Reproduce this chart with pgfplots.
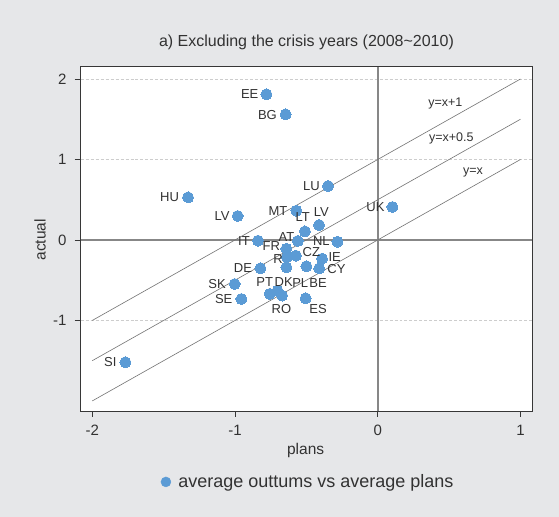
\documentclass[border=0pt]{standalone}
\usepackage{fontspec}
\setmainfont{Liberation Sans}
\usepackage{pgfplots}
\usepackage{pgfplotstable}
\pgfplotsset{compat=1.18}

\definecolor{bggray}{RGB}{230,231,233}
\definecolor{dotblue}{RGB}{91,155,213}
\definecolor{linec}{RGB}{115,115,115}
\definecolor{framec}{RGB}{55,55,55}
\definecolor{zeroc}{RGB}{135,135,135}
\definecolor{gridc}{RGB}{205,205,205}
\definecolor{textc}{RGB}{50,50,50}

% average plans (x) and average outturns (y) by country
\pgfplotstableread{
x       y
-0.780  1.810
-0.645  1.561
-1.329  0.530
-0.981  0.298
-0.348  0.671
 0.103  0.410
-0.570  0.364
-0.411  0.186
-0.510  0.107
-0.839 -0.009
-0.560 -0.012
-0.282 -0.022
-0.640 -0.110
-0.636 -0.210
-0.573 -0.195
-0.390 -0.232
-0.822 -0.352
-0.640 -0.338
-0.500 -0.326
-0.410 -0.352
-1.002 -0.547
-0.955 -0.733
-0.757 -0.670
-0.702 -0.630
-0.670 -0.690
-0.505 -0.724
-1.768 -1.519
}\points

% country label positions
\pgfplotstableread{
lx      ly      lab
-0.897  1.810   EE
-0.773  1.553   BG
-1.458  0.530   HU
-1.091  0.298   LV
-0.465  0.671   LU
-0.016  0.410   UK
-0.699  0.364   MT
-0.395  0.352   LV
-0.525  0.282   LT
-0.937 -0.012   IT
-0.640  0.035   AT
-0.395 -0.012   NL
-0.745 -0.080   FR
-0.699 -0.232   R
-0.465 -0.153   CZ
-0.301 -0.212   IE
-0.289 -0.357   CY
-0.944 -0.352   DE
-1.126 -0.547   SK
-1.079 -0.733   SE
-0.792 -0.518   PT
-0.659 -0.525   DK
-0.543 -0.534   PL
-0.418 -0.538   BE
-0.675 -0.861   RO
-0.418 -0.861   ES
-1.873 -1.519   SI
}\labels

\begin{document}
\begin{tikzpicture}
\useasboundingbox (0,0) rectangle (559bp,517bp);
\fill[bggray] (0,0) rectangle (559bp,517bp);
\begin{axis}[
  at={(80.7bp,106bp)}, anchor=south west,
  scale only axis, width=451.6bp, height=344.3bp,
  xmin=-2.081, xmax=1.083, ymin=-2.125, ymax=2.153,
  xtick={-2,-1,0,1}, ytick={-1,0,1,2},
  tick pos=left, tick align=outside, major tick length=6bp,
  every tick/.style={draw=framec, line width=0.7bp},
  axis line style={draw=framec, line width=0.9bp},
  axis background/.style={fill=white},
  ymajorgrids, grid style={densely dashed, draw=gridc, line width=0.6bp},
  /pgf/number format/assume math mode=true,
  ticklabel style={font=\fontsize{15bp}{17bp}\selectfont, text=textc},
  xticklabel style={anchor=north, inner sep=0pt, yshift=-7.6bp},
  yticklabel style={anchor=east, inner sep=0pt, xshift=-8bp},
  title={a) Excluding the crisis years (2008\textasciitilde 2010)},
  every axis title/.style={at={(axis description cs:0.5,1.0717)}, anchor=center,
    font=\fontsize{16bp}{18bp}\selectfont, text=textc},
  xlabel={plans}, ylabel={actual},
  every axis x label/.style={at={(axis description cs:0.498,-0.1133)}, anchor=center,
    font=\fontsize{15.5bp}{18bp}\selectfont, text=textc},
  every axis y label/.style={at={(axis description cs:-0.0901,0.497)}, anchor=center, rotate=90,
    font=\fontsize{15.5bp}{18bp}\selectfont, text=textc},
  legend style={at={(axis description cs:0.5035,-0.206)}, anchor=center, draw=none, fill=none,
    font=\fontsize{18bp}{20bp}\selectfont, text=textc, inner sep=0pt},
  legend image code/.code={\fill[dotblue] (2.83bp,0bp) circle (5bp); \path (13bp,0bp);},
  clip=false,
]
% zero reference lines
\addplot[draw=zeroc, line width=1.8bp, forget plot] coordinates {(0,-2.125) (0,2.153)};
\addplot[draw=zeroc, line width=1.4bp, forget plot] coordinates {(-2.081,0) (1.083,0)};
% reference lines y=x, y=x+0.5, y=x+1
\addplot[draw=linec, line width=0.6bp, forget plot] coordinates {(-2,-2) (1,1)};
\addplot[draw=linec, line width=0.6bp, forget plot] coordinates {(-2,-1.5) (1,1.5)};
\addplot[draw=linec, line width=0.6bp, forget plot] coordinates {(-2,-1) (1,2)};
\node[font=\fontsize{12.5bp}{14bp}\selectfont, text=textc] at (axis cs:0.474,1.698) {y=x+1};
\node[font=\fontsize{12.5bp}{14bp}\selectfont, text=textc] at (axis cs:0.516,1.263) {y=x+0.5};
\node[font=\fontsize{12.5bp}{14bp}\selectfont, text=textc] at (axis cs:0.668,0.841) {y=x};
% countries
\addplot[only marks, color=dotblue, mark=*, mark size=5.5bp,
  mark options={solid, fill=dotblue, draw=dotblue, line width=0pt}]
  table[x=x, y=y] {\points};
\addlegendentry{average outtums vs average plans}
\addplot[draw=none, mark=none, forget plot, nodes near coords, point meta=explicit symbolic,
  nodes near coords align={center},
  every node near coord/.append style={anchor=center, inner sep=0pt,
    font=\fontsize{13bp}{15bp}\selectfont, text=textc}]
  table[x=lx, y=ly, meta=lab] {\labels};
\end{axis}
\end{tikzpicture}
\end{document}
